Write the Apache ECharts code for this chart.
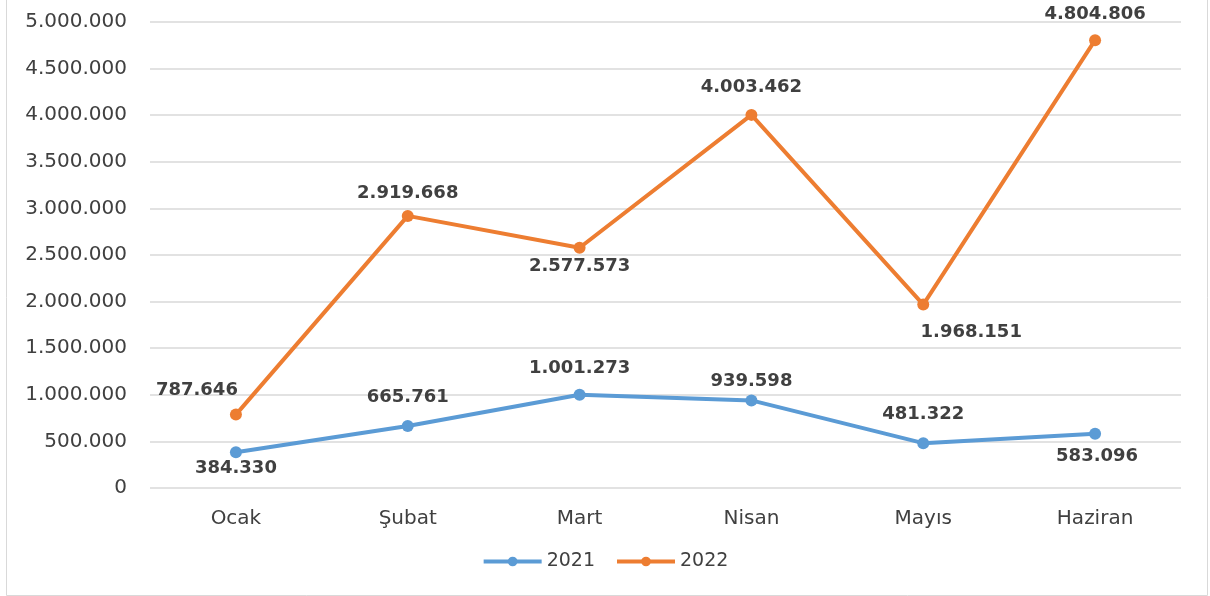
<!DOCTYPE html>
<html>
<head>
<meta charset="utf-8">
<script src="https://cdn.jsdelivr.net/npm/echarts@6/dist/echarts.min.js"></script>
<style>
  html, body { margin: 0; padding: 0; background: #fff; }
  #chart { width: 1210px; height: 596px; }
</style>
</head>
<body>
<div id="chart"></div>
<script>
const months = ['Ocak', 'Şubat', 'Mart', 'Nisan', 'Mayıs', 'Haziran']
const values2021 = [384330, 665761, 1001273, 939598, 481322, 583096]
const values2022 = [787646, 2919668, 2577573, 4003462, 1968151, 4804806]

// label offsets from each point (label centre minus point centre)
const offsets2021 = [[0, 16], [0, -29], [0, -26], [0, -19], [0, -29], [2, 23]]
const offsets2022 = [[-39, -24], [0, -23], [0, 19], [0, -28], [48, 28], [0, -26]]

function fmt (v) {
  return String(v).replace(/\B(?=(\d{3})+(?!\d))/g, '.')
}

function withLabels (values, offsets) {
  return values.map((v, i) => ({
    value: v,
    label: { position: 'inside', offset: offsets[i] }
  }))
}

const chart = echarts.init(document.getElementById('chart'))
const option = {
  animation: false,
  color: ['#5B9BD5', '#ED7D31'],
  textStyle: { fontFamily: 'DejaVu Sans' },
  graphic: [{
    type: 'rect',
    shape: { x: 6.5, y: -2, width: 1201, height: 597.5 },
    style: { fill: 'none', stroke: '#d9d9d9', lineWidth: 1 },
    silent: true
  }],
  grid: { left: 150, right: 29, top: 22, bottom: 108 },
  legend: {
    bottom: 20,
    left: 'center',
    itemWidth: 58,
    itemHeight: 12,
    itemGap: 20,
    lineStyle: { width: 4 },
    textStyle: { fontSize: 19, color: '#404040', fontFamily: 'DejaVu Sans' },
    data: ['2021', '2022']
  },
  xAxis: {
    type: 'category',
    data: months,
    axisLine: { show: false },
    axisTick: { show: false },
    axisLabel: { fontSize: 20, color: '#404040', margin: 21 }
  },
  yAxis: {
    type: 'value',
    min: 0,
    max: 5000000,
    interval: 500000,
    axisLabel: { fontSize: 20, color: '#404040', margin: 23, formatter: fmt },
    splitLine: { lineStyle: { color: '#d9d9d9', width: 1.5 } }
  },
  series: [
    {
      name: '2021',
      type: 'line',
      data: withLabels(values2021, offsets2021),
      symbol: 'circle',
      symbolSize: 12,
      lineStyle: { width: 4 },
      label: {
        show: true,
        fontSize: 18,
        fontWeight: 'bold',
        color: '#404040',
        formatter: p => fmt(p.value)
      }
    },
    {
      name: '2022',
      type: 'line',
      data: withLabels(values2022, offsets2022),
      symbol: 'circle',
      symbolSize: 12,
      lineStyle: { width: 4 },
      label: {
        show: true,
        fontSize: 18,
        fontWeight: 'bold',
        color: '#404040',
        formatter: p => fmt(p.value)
      }
    }
  ]
}
option && chart.setOption(option)
</script>
</body>
</html>
